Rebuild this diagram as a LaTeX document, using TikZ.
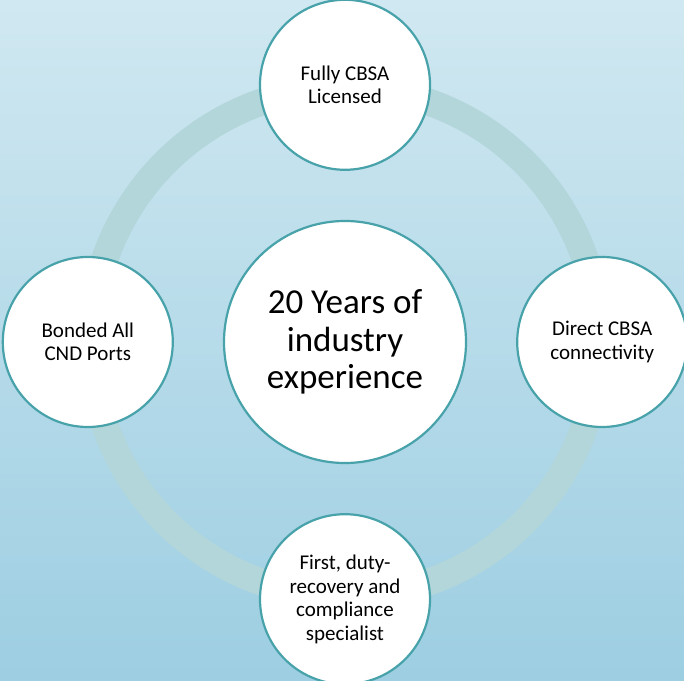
\documentclass[tikz,border=0pt]{standalone}
\usepackage{fontspec}
\setmainfont{Carlito}
\definecolor{bgtop}{RGB}{208, 232, 241}
\definecolor{bgbot}{RGB}{157, 206, 226}
\definecolor{ringteal}{RGB}{178, 214, 218}
\definecolor{rimteal}{RGB}{72, 162, 170}
\usetikzlibrary{positioning}

\begin{document}
\begin{tikzpicture}[x=1pt, y=1pt, node distance=49pt,
    hubdisc/.style={circle, draw=rimteal, line width=2.2pt, fill=white,
      minimum size=242pt, inner sep=0pt, align=center,
      font=\fontsize{35}{37.5}\selectfont},
    satdisc/.style={circle, draw=rimteal, line width=2.2pt, fill=white,
      minimum size=170pt, inner sep=0pt, align=center,
      font=\fontsize{21}{23.5}\selectfont}]
  % Background
  \useasboundingbox (0, 0) rectangle (684, 680);
  \shade[top color=bgtop, bottom color=bgbot] (0, 0) rectangle (684, 680);

  % Ring behind the discs
  \coordinate (mid) at (345, 338);
  \draw[ringteal, line width=27pt] (mid) circle[radius=254];

  % Hub
  \node[hubdisc] (hub) at (mid) {20 Years of\\industry\\experience};

  % Satellites
  \node[satdisc, above=of hub] (licensed) {Fully CBSA\\Licensed};
  \node[satdisc, right=of hub] (connect) {Direct CBSA\\connectivity};
  \node[satdisc, below=of hub] (duty) {First, duty-\\recovery and\\compliance\\specialist};
  \node[satdisc, left=of hub] (ports) {Bonded All\\CND Ports};
\end{tikzpicture}
\end{document}
